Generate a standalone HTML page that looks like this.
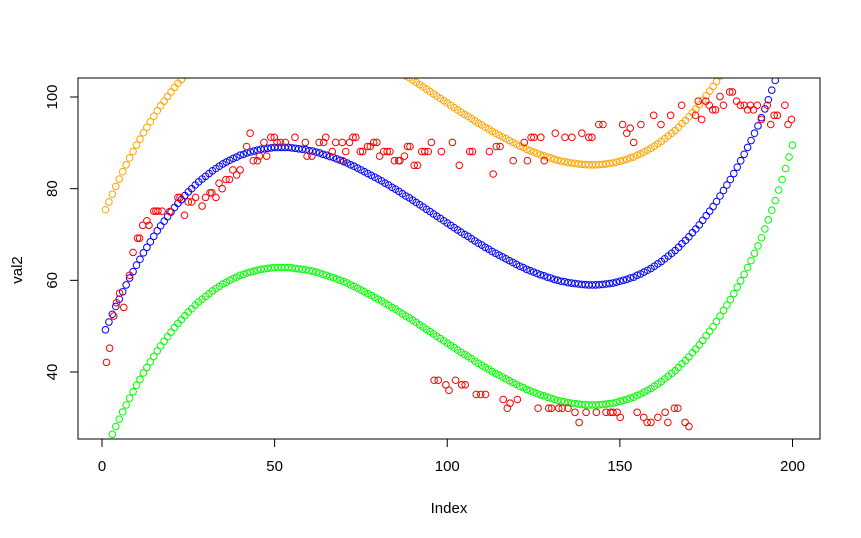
<!DOCTYPE html>
<html><head><meta charset="utf-8"><style>
html,body{margin:0;padding:0;background:#fff;}
svg{display:block;font-family:"Liberation Sans",Arial,sans-serif;}
</style></head><body>
<svg id="chart" width="861" height="538" viewBox="0 0 861 538" xmlns="http://www.w3.org/2000/svg">
<defs><clipPath id="plotclip"><rect x="78" y="78" width="742" height="361"/></clipPath></defs>
<rect x="0" y="0" width="861" height="538" fill="#fff"/>
<g id="marks" clip-path="url(#plotclip)"></g>
<rect x="78" y="78" width="742" height="361" fill="none" stroke="#000" stroke-width="1"/>
<g id="xaxis"></g>
<g id="yaxis"></g>
<text x="449" y="513" font-size="15" text-anchor="middle">Index</text>
<text x="0" y="0" font-size="15" text-anchor="middle" transform="translate(22,270) rotate(-90)">val2</text>
</svg>
<script>
const xTicks = [0, 50, 100, 150, 200];
const yTicks = [40, 60, 80, 100];
const fitValues = [49.2,50.9,52.6,54.3,55.9,57.5,59.0,60.5,61.9,63.3,64.6,66.0,67.2,68.4,69.6,70.8,71.9,72.9,73.9,74.9,75.9,76.8,77.6,78.5,79.3,80.0,80.8,81.5,82.1,82.7,83.3,83.9,84.4,84.9,85.4,85.8,86.2,86.6,86.9,87.3,87.5,87.8,88.0,88.2,88.4,88.6,88.7,88.8,88.9,89.0,89.0,89.0,89.0,89.0,88.9,88.8,88.7,88.6,88.5,88.3,88.2,88.0,87.8,87.5,87.3,87.0,86.8,86.5,86.2,85.9,85.6,85.2,84.9,84.5,84.1,83.7,83.3,82.9,82.5,82.1,81.7,81.2,80.8,80.3,79.9,79.4,78.9,78.4,78.0,77.5,77.0,76.5,76.0,75.5,75.0,74.5,74.0,73.5,73.0,72.5,72.0,71.5,71.0,70.5,70.0,69.6,69.1,68.6,68.1,67.7,67.2,66.8,66.3,65.9,65.5,65.1,64.7,64.3,63.9,63.5,63.1,62.8,62.4,62.1,61.8,61.5,61.2,61.0,60.7,60.5,60.2,60.0,59.8,59.7,59.5,59.4,59.3,59.2,59.1,59.05,59.0,59.0,59.0,59.05,59.1,59.2,59.3,59.4,59.6,59.8,60.0,60.2,60.5,60.7,61.1,61.4,61.8,62.2,62.6,63.1,63.6,64.1,64.7,65.3,65.9,66.5,67.2,68.0,68.7,69.5,70.4,71.2,72.1,73.1,74.1,75.1,76.1,77.2,78.4,79.6,80.8,82.0,83.3,84.7,86.1,87.5,89.0,90.5,92.1,93.7,95.5,97.4,99.4,101.5,103.6,105.9,108.2,110.6,113.1,115.7];
const bandHalfWidth = 26.2;
const redX = [1.3,2.2,3.4,4.2,5.1,6.3,8,9,10.3,10.9,11.8,13,13.6,15,15.6,16.2,17.4,19.6,22,22.6,23.9,25,26,27.1,29,30,31.3,31.8,33,33.9,34.8,35.9,36.9,37.9,39,40,41.9,42.9,43.8,45,45.6,46.9,47.7,48.9,49.9,50.7,51.7,53.1,55.9,58.9,59.4,60.8,62.9,64.2,64.8,66.7,67.7,69.6,69.7,70.6,71.7,72.7,73.5,74.8,75.5,76.9,77.7,78.7,79.6,80.4,81.6,82.6,83.4,84.7,85.9,86.3,87.6,88.5,89.2,90.4,91.4,92.6,93.5,94.5,95.4,98.3,101.5,103.5,106.5,107.3,112.2,113.3,114.2,115.3,119.1,122.3,123.2,124.3,125.1,127.1,128.1,131.3,134.1,136.1,139,141,141.9,143.9,145.1,150.8,152,153,154,156.1,159.8,161.9,164.7,167.9,171.9,173.7,172.7,174.9,175.9,176.9,177.7,179,180,181.8,182.6,183.8,184.9,186,187,187.8,188.7,191,189.8,192.7,193.7,194.7,195.6,197.8,198.7,199.7,96.2,97.4,99.6,100.5,102.4,104.2,105.2,108.4,109.7,111.1,116.2,118.2,117.4,120.3,126.3,129.4,130.2,132.3,133.3,135,137,138.2,140.2,143.2,146,147.3,148,149.2,150.1,155,156.9,157.9,159,161,163.1,163.9,165.8,166.8,168.9,170];
const redY = [42.1,45.2,52.2,55.1,57.2,54.1,61.1,66.1,69.2,69.2,72,73,72,75.1,75.1,75.1,75.1,75,78.1,78.1,74.2,77.1,77.1,78.1,76.2,78.1,79.1,79.1,78.1,81.2,80,82,82,84.1,83,84.1,89.2,92.1,86.1,86.1,87.1,90.1,87.1,91.2,91.2,90.1,90.1,90.1,91.2,90.1,87.1,87.1,90.1,90.1,91.2,88.1,90.1,90.1,86.1,88.1,90.1,91.2,91.2,88.1,88.1,89.2,89.2,90.1,90.1,87.1,88.1,88.1,88.1,86.1,86.1,86.1,87.1,89.2,89.2,85.1,85.1,88.1,88.1,88.1,90.1,88.1,90.1,85.1,88.1,88.1,88.1,83.2,89.2,89.2,86.1,90.1,86.1,91.2,91.2,91.2,86.1,92.1,91.2,91.2,92.1,91.2,91.2,94,94,94,92.1,93.2,90.1,94,96,94,96,98.2,96,95.1,99.1,99.1,98.2,97.2,97.2,100.1,98.2,101.1,101.1,99.1,98.2,98.2,97.2,98.2,97.2,95.1,98.2,98.2,94,96,96,98.2,94,95.1,38.2,38.2,37.2,36,38.2,37.2,37.2,35.1,35.1,35.1,34,33.2,32.1,34,32.1,32.1,32.1,32.1,32.1,32.1,31.2,29,31.2,31.2,31.2,31.2,31.2,31.2,30.1,31.2,30.1,29,29,30.1,31.2,29,32.1,32.1,29,28.1];

const NS = "http://www.w3.org/2000/svg";
function sx(v){ return 102 + (v - 0) * 3.4525; }
function sy(v){ return 372 - (v - 40) * 4.5833; }
const marks = document.getElementById('marks');
function circle(cx, cy, color, name){
  const c = document.createElementNS(NS, 'circle');
  c.setAttribute('cx', cx.toFixed(2));
  c.setAttribute('cy', cy.toFixed(2));
  c.setAttribute('r', 3.3);
  c.setAttribute('fill', 'none');
  c.setAttribute('stroke', color);
  c.setAttribute('stroke-width', 1);
  
  
  marks.appendChild(c);
}
for (let i = 0; i < fitValues.length; i++) {
  circle(sx(i + 1), sy(fitValues[i] + bandHalfWidth), '#FFA500', 'upper-band-point');
}
for (let i = 0; i < fitValues.length; i++) {
  circle(sx(i + 1), sy(fitValues[i] - bandHalfWidth), '#00FF00', 'lower-band-point');
}
for (let i = 0; i < fitValues.length; i++) {
  circle(sx(i + 1), sy(fitValues[i]), '#0000FF', 'fit-point');
}
for (let i = 0; i < redX.length; i++) {
  circle(sx(redX[i]), sy(redY[i]), '#FF0000', 'data-point');
}
const xa = document.getElementById('xaxis');
const ya = document.getElementById('yaxis');
xTicks.forEach(t => {
  const l = document.createElementNS(NS, 'line');
  l.setAttribute('x1', sx(t)); l.setAttribute('x2', sx(t));
  l.setAttribute('y1', 439); l.setAttribute('y2', 447);
  l.setAttribute('stroke', '#000');
  
  
  xa.appendChild(l);
  const tx = document.createElementNS(NS, 'text');
  tx.setAttribute('x', sx(t)); tx.setAttribute('y', 471);
  tx.setAttribute('font-size', '15'); tx.setAttribute('text-anchor', 'middle');
  
  
  tx.textContent = t;
  xa.appendChild(tx);
});
yTicks.forEach(t => {
  const l = document.createElementNS(NS, 'line');
  l.setAttribute('x1', 70); l.setAttribute('x2', 78);
  l.setAttribute('y1', sy(t)); l.setAttribute('y2', sy(t));
  l.setAttribute('stroke', '#000');
  
  
  ya.appendChild(l);
  const tx = document.createElementNS(NS, 'text');
  tx.setAttribute('font-size', '15'); tx.setAttribute('text-anchor', 'middle');
  tx.setAttribute('transform', 'translate(57,' + sy(t) + ') rotate(-90)');
  
  
  tx.textContent = t;
  ya.appendChild(tx);
});
</script>
</body></html>
